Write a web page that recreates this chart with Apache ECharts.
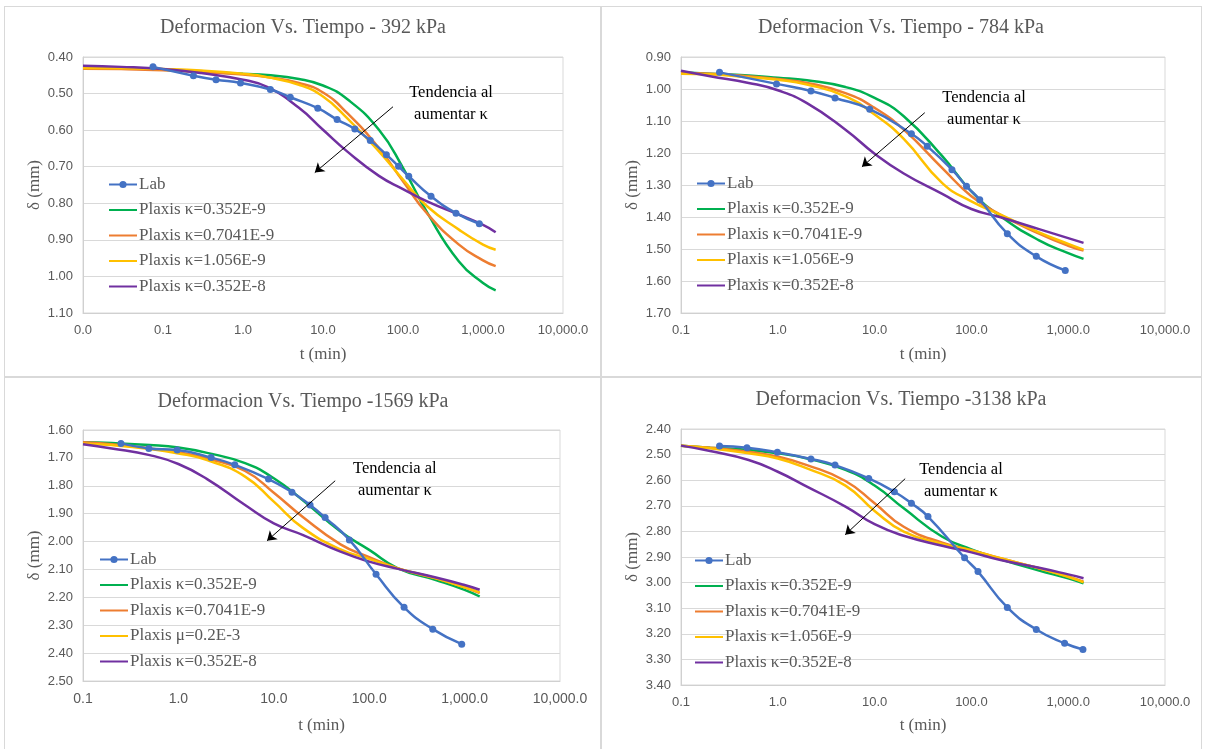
<!DOCTYPE html>
<html>
<head>
<meta charset="utf-8">
<script src="https://cdn.jsdelivr.net/npm/echarts@6/dist/echarts.min.js"></script>
<style>
  html, body { margin: 0; padding: 0; background: #fff; }
  body { width: 1205px; height: 749px; position: relative; overflow: hidden; }
  .panel { position: absolute; outline: 1px solid #d9d9d9; }
</style>
</head>
<body>
<div id="p392" class="panel" style="left:5px;top:7px;width:596px;height:370px"></div>
<div id="p784" class="panel" style="left:601px;top:7px;width:600px;height:370px"></div>
<div id="p1569" class="panel" style="left:5px;top:377px;width:596px;height:372px"></div>
<div id="p3138" class="panel" style="left:601px;top:377px;width:600px;height:372px"></div>
<script>
// --- datos (t en min, deformacion en mm) ---
const nombres = ['Lab', 'Plaxis κ=0.352E-9', 'Plaxis κ=0.7041E-9', 'Plaxis κ=1.056E-9', 'Plaxis κ=0.352E-8'];
const nombres1569 = ['Lab', 'Plaxis κ=0.352E-9', 'Plaxis κ=0.7041E-9', 'Plaxis μ=0.2E-3', 'Plaxis κ=0.352E-8'];

// 392 kPa
const tLab392 = [0.075, 0.24, 0.46, 0.93, 2.2, 3.9, 8.6, 15, 25, 39, 62, 88, 118, 224, 460, 900];
const lab392 = [0.427, 0.451, 0.462, 0.471, 0.489, 0.510, 0.540, 0.571, 0.597, 0.628, 0.667, 0.699, 0.726, 0.781, 0.827, 0.856];
const tPlx392 = [0.01, 0.03, 0.1, 0.3, 1, 2, 5, 10, 20, 50, 100, 200, 500, 1000, 1440];
const verde392 = [0.427, 0.430, 0.435, 0.440, 0.446, 0.449, 0.460, 0.478, 0.515, 0.599, 0.703, 0.825, 0.959, 1.018, 1.038];
const naranja392 = [0.432, 0.433, 0.436, 0.441, 0.448, 0.455, 0.471, 0.497, 0.553, 0.649, 0.740, 0.828, 0.913, 0.956, 0.972];
const amarillo392 = [0.430, 0.431, 0.433, 0.437, 0.446, 0.455, 0.476, 0.508, 0.567, 0.658, 0.735, 0.808, 0.872, 0.913, 0.927];
const morado392 = [0.424, 0.427, 0.433, 0.444, 0.462, 0.482, 0.539, 0.599, 0.658, 0.725, 0.761, 0.795, 0.831, 0.859, 0.879];

// 784 kPa
const tLab784 = [0.25, 0.97, 2.2, 3.9, 8.9, 24, 35, 63, 89, 122, 235, 468, 933];
const lab784 = [0.948, 0.984, 1.006, 1.028, 1.063, 1.140, 1.179, 1.252, 1.304, 1.346, 1.452, 1.523, 1.567];
const tPlx = [0.1, 0.2, 0.5, 1, 2, 5, 10, 20, 50, 100, 200, 500, 1000, 1440];
const verde784 = [0.948, 0.952, 0.958, 0.965, 0.973, 0.994, 1.028, 1.085, 1.210, 1.320, 1.398, 1.473, 1.513, 1.531];
const naranja784 = [0.950, 0.952, 0.960, 0.969, 0.981, 1.013, 1.059, 1.127, 1.247, 1.335, 1.393, 1.452, 1.490, 1.505];
const amarillo784 = [0.952, 0.954, 0.963, 0.971, 0.986, 1.023, 1.080, 1.156, 1.294, 1.351, 1.393, 1.448, 1.484, 1.502];
const morado784 = [0.943, 0.960, 0.981, 1.004, 1.044, 1.127, 1.202, 1.264, 1.328, 1.375, 1.401, 1.438, 1.466, 1.481];

// 1569 kPa
const tLab1569 = [0.25, 0.49, 0.97, 2.2, 3.9, 8.8, 15.5, 24, 34.5, 62, 118, 232, 464, 933];
const lab1569 = [1.648, 1.666, 1.672, 1.699, 1.725, 1.776, 1.823, 1.869, 1.914, 1.994, 2.117, 2.236, 2.314, 2.368];
const verde1569 = [1.644, 1.647, 1.654, 1.663, 1.682, 1.719, 1.773, 1.851, 1.964, 2.030, 2.096, 2.138, 2.173, 2.197];
const naranja1569 = [1.644, 1.651, 1.666, 1.680, 1.702, 1.747, 1.825, 1.911, 2.010, 2.056, 2.096, 2.132, 2.164, 2.185];
const amarillo1569 = [1.648, 1.654, 1.668, 1.684, 1.708, 1.767, 1.857, 1.950, 2.028, 2.062, 2.096, 2.132, 2.164, 2.182];
const morado1569 = [1.651, 1.666, 1.690, 1.722, 1.776, 1.869, 1.935, 1.976, 2.036, 2.072, 2.098, 2.129, 2.156, 2.173];

// 3138 kPa
const tLab3138 = [0.25, 0.48, 0.99, 2.2, 3.9, 8.7, 16, 24, 35.6, 85, 117, 235, 468, 918, 1420];
const lab3138 = [2.466, 2.473, 2.491, 2.517, 2.541, 2.593, 2.645, 2.690, 2.742, 2.903, 2.957, 3.097, 3.183, 3.237, 3.261];
const verde3138 = [2.465, 2.473, 2.482, 2.495, 2.515, 2.560, 2.621, 2.710, 2.821, 2.870, 2.909, 2.953, 2.983, 3.003];
const naranja3138 = [2.465, 2.473, 2.489, 2.508, 2.541, 2.603, 2.690, 2.782, 2.844, 2.873, 2.905, 2.944, 2.977, 2.996];
const amarillo3138 = [2.465, 2.475, 2.495, 2.515, 2.554, 2.621, 2.720, 2.801, 2.849, 2.874, 2.905, 2.944, 2.977, 2.999];
const morado3138 = [2.465, 2.486, 2.521, 2.567, 2.625, 2.703, 2.772, 2.817, 2.856, 2.882, 2.912, 2.942, 2.968, 2.983];

const colores = ['#4472C4', '#00B050', '#ED7D31', '#FFC000', '#7030A0'];
const SERIF = 'Liberation Serif';
const SANS = 'Liberation Sans';

const pares = (ts, vs) => ts.map((t, i) => [t, vs[i]]);
const fmtX = (v) => Number(v).toLocaleString('en-US', { minimumFractionDigits: 1, maximumFractionDigits: 1 });

function panel(id, cfg) {
  const chart = echarts.init(document.getElementById(id));
  const series = cfg.curvas.map((c, i) => {
    const s = {
      name: cfg.nombres[i],
      type: 'line',
      smooth: true,
      data: pares(c[0], c[1]),
      symbol: i === 0 ? 'circle' : 'none',
      symbolSize: 7,
      showSymbol: i === 0,
      lineStyle: { width: 2.5, color: colores[i] },
      itemStyle: { color: colores[i] },
      z: i === 0 ? 3 : 2,
    };
    if (i === 0) {
      s.markLine = {
        silent: true,
        symbol: ['none', 'arrow'],
        symbolSize: 9,
        label: { show: false },
        lineStyle: { color: '#000', width: 1, type: 'solid' },
        data: [[{ coord: cfg.flecha[0] }, { coord: cfg.flecha[1] }]],
      };
      s.markPoint = {
        silent: true,
        symbol: 'circle',
        symbolSize: 0,
        label: {
          show: true, position: 'inside', color: '#000',
          fontFamily: SERIF, fontSize: 16.5, lineHeight: 22,
          formatter: 'Tendencia al\naumentar κ',
        },
        data: [{ coord: cfg.texto }],
      };
    }
    return s;
  });

  // la leyenda de Excel solo pone marcador en "Lab"
  const itemsLeyenda = cfg.nombres.map((n, i) => i === 0 ? { name: n } : { name: n, itemStyle: { opacity: 0 } });

  chart.setOption({
    animation: false,
    title: {
      text: cfg.titulo, left: 'center', top: cfg.tituloTop, padding: 0,
      textStyle: { fontFamily: SERIF, fontSize: 20, fontWeight: 'normal', color: '#595959' },
    },
    legend: {
      data: itemsLeyenda, orient: 'vertical', left: cfg.leyenda[0], top: cfg.leyenda[1] + 2,
      padding: 0, itemGap: 8.5, itemWidth: 28, itemHeight: 9,
      textStyle: { fontFamily: SERIF, fontSize: 17, lineHeight: 17, color: '#595959', padding: [0, 0, 0, -3] },
    },
    grid: Object.assign({ show: true, borderColor: '#d9d9d9', borderWidth: 1 }, cfg.grid),
    xAxis: {
      type: 'log', logBase: 10, min: cfg.xMin, max: 10000,
      name: 't (min)', nameLocation: 'middle', nameGap: cfg.xNameGap,
      nameTextStyle: { fontFamily: SERIF, fontSize: 17, color: '#595959' },
      axisLine: { onZero: false, lineStyle: { color: '#d0d0d0' } },
      axisTick: { show: false },
      splitLine: { show: false },
      axisLabel: { margin: 11, fontFamily: SANS, fontSize: cfg.xFont || 13, color: '#595959', formatter: fmtX },
    },
    yAxis: {
      type: 'value', inverse: true, min: cfg.yMin, max: cfg.yMax, interval: 0.1,
      name: 'δ (mm)', nameLocation: 'middle', nameGap: 40, nameRotate: 90, nameMoveOverlap: false,
      nameTextStyle: { fontFamily: SERIF, fontSize: 17, color: '#595959' },
      axisLine: { show: true, lineStyle: { color: '#d0d0d0' } },
      axisTick: { show: false },
      splitLine: { lineStyle: { color: '#d9d9d9' } },
      axisLabel: { margin: 10, fontFamily: SANS, fontSize: 13, color: '#595959', formatter: (v) => v.toFixed(2) },
    },
    series: series,
  });
  return chart;
}

panel('p392', {
  titulo: 'Deformacion Vs. Tiempo - 392 kPa', tituloTop: 11,
  grid: { left: 78, top: 50, width: 480, height: 256 },
  xMin: 0.01, yMin: 0.4, yMax: 1.1, xNameGap: 33,
  leyenda: [103, 167], nombres: nombres,
  curvas: [[tLab392, lab392], [tPlx392, verde392], [tPlx392, naranja392], [tPlx392, amarillo392], [tPlx392, morado392]],
  flecha: [[75, 0.536], [7.9, 0.716]], texto: [398, 0.528],
});

panel('p784', {
  titulo: 'Deformacion Vs. Tiempo - 784 kPa', tituloTop: 11,
  grid: { left: 80, top: 50, width: 484, height: 256 },
  xMin: 0.1, yMin: 0.9, yMax: 1.7, xNameGap: 33,
  leyenda: [95, 166], nombres: nombres,
  curvas: [[tLab784, lab784], [tPlx, verde784], [tPlx, naranja784], [tPlx, amarillo784], [tPlx, morado784]],
  flecha: [[33, 1.074], [7.4, 1.243]], texto: [135, 1.062],
});

panel('p1569', {
  titulo: 'Deformacion Vs. Tiempo -1569 kPa', tituloTop: 15,
  grid: { left: 78, top: 53, width: 477, height: 251 },
  xMin: 0.1, yMin: 1.6, yMax: 2.5, xNameGap: 36, xFont: 14,
  leyenda: [94, 172], nombres: nombres1569,
  curvas: [[tLab1569, lab1569], [tPlx, verde1569], [tPlx, naranja1569], [tPlx, amarillo1569], [tPlx, morado1569]],
  flecha: [[44, 1.782], [8.5, 1.997]], texto: [186, 1.778],
});

panel('p3138', {
  titulo: 'Deformacion Vs. Tiempo -3138 kPa', tituloTop: 13,
  grid: { left: 80, top: 52, width: 484, height: 256 },
  xMin: 0.1, yMin: 2.4, yMax: 3.4, xNameGap: 32,
  leyenda: [93, 173], nombres: nombres,
  curvas: [[tLab3138, lab3138], [tPlx, verde3138], [tPlx, naranja3138], [tPlx, amarillo3138], [tPlx, morado3138]],
  flecha: [[20.7, 2.594], [4.97, 2.813]], texto: [78, 2.602],
});
</script>
</body>
</html>
